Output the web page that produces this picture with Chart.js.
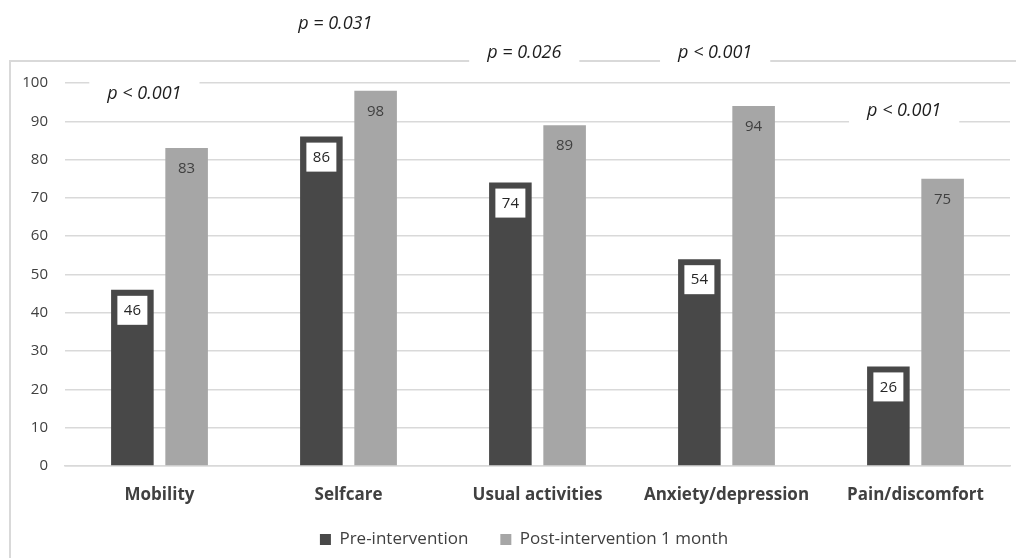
<!DOCTYPE html>
<html>
<head>
<meta charset="utf-8">
<script src="https://cdn.jsdelivr.net/npm/chart.js@4"></script>
<style>
  body { margin: 0; background: #fff; }
  #wrap { width: 1016px; height: 558px; }
</style>
</head>
<body>
<div id="wrap"><canvas id="myChart" width="1016" height="558"></canvas></div>
<script>
var categories = ['Mobility', 'Selfcare', 'Usual activities', 'Anxiety/depression', 'Pain/discomfort'];
var preValues = [46, 86, 74, 54, 26];
var postValues = [83, 98, 89, 94, 75];
var seriesNames = ['Pre-intervention', 'Post-intervention 1 month'];
var yTicks = [0, 10, 20, 30, 40, 50, 60, 70, 80, 90, 100];

// p-value notes: text, position on the category axis, height in value units
var pTexts = ['p < 0.001', 'p = 0.031', 'p = 0.026', 'p < 0.001', 'p < 0.001'];
var pIndex = [-0.08, 0.93, 1.93, 2.94, 3.94];
var pValue = [97.1, 115.4, 107.8, 107.8, 92.7];

var fontName = "'Open Sans', sans-serif";
var textGray = '#404040';

// light frame around the chart, like an office chart border
var framePlugin = {
  id: 'frame',
  beforeDraw: function(chart) {
    var c = chart.ctx;
    c.save();
    c.strokeStyle = '#d9d9d9';
    c.lineWidth = 2;
    c.beginPath();
    c.moveTo(10, 600);
    c.lineTo(10, 61);
    c.lineTo(1100, 61);
    c.stroke();
    c.restore();
  }
};

// the legend sits a bit right of centre and a little higher
var legendShift = {
  id: 'legendShift',
  afterLayout: function(chart) {
    var lg = chart.legend;
    lg.left += 19;
    lg.right += 19;
    lg.top -= 15;
    lg.bottom -= 15;
  }
};

// value labels on the bars
var valuePlugin = {
  id: 'values',
  afterDatasetsDraw: function(chart) {
    var c = chart.ctx;
    c.save();
    c.font = '15px ' + fontName;
    c.textAlign = 'center';
    c.textBaseline = 'middle';
    chart.data.datasets.forEach(function(ds, d) {
      chart.getDatasetMeta(d).data.forEach(function(bar, i) {
        var cy = bar.y + 21;
        if (d === 0) {
          c.fillStyle = '#ffffff';
          c.fillRect(bar.x - 15, bar.y + 6, 30, 29);
          c.fillStyle = '#262626';
        } else {
          c.fillStyle = textGray;
        }
        c.fillText(ds.data[i], bar.x, cy);
      });
    });
    c.restore();
  }
};

// p-value notes with white boxes behind them
var pPlugin = {
  id: 'pnotes',
  afterDraw: function(chart) {
    var c = chart.ctx;
    var xs = chart.scales.x, ys = chart.scales.y;
    c.save();
    c.font = 'italic 18px ' + fontName;
    c.textAlign = 'center';
    c.textBaseline = 'middle';
    for (var i = 0; i < pTexts.length; i++) {
      var px = xs.getPixelForValue(pIndex[i]);
      var py = ys.getPixelForValue(pValue[i]);
      var w = c.measureText(pTexts[i]).width + 36;
      c.fillStyle = '#ffffff';
      c.fillRect(px - w / 2, py - 16, w, 32);
      c.fillStyle = '#1e1e1e';
      c.fillText(pTexts[i], px, py);
    }
    c.restore();
  }
};

var ctx = document.getElementById('myChart');

var myChart = new Chart(ctx, {
  type: 'bar',
  data: {
    labels: categories,
    datasets: [{
      label: seriesNames[0],
      data: preValues,
      backgroundColor: '#484848'
    }, {
      label: seriesNames[1],
      data: postValues,
      backgroundColor: '#a6a6a6'
    }]
  },
  options: {
    responsive: false,
    animation: false,
    layout: { padding: { top: 83, left: 0, right: 6, bottom: -15 } },
    datasets: {
      bar: { categoryPercentage: 0.574, barPercentage: 0.785 }
    },
    plugins: {
      tooltip: { enabled: false },
      legend: {
        position: 'bottom',
        labels: {
          boxWidth: 11,
          boxHeight: 11,
          padding: 32,
          color: textGray,
          font: { family: fontName, size: 17 }
        }
      }
    },
    scales: {
      x: {
        grid: { display: false },
        border: { color: '#d9d9d9', width: 1.5 },
        ticks: {
          color: textGray,
          padding: 11,
          font: { family: fontName, size: 17, weight: 'bold' }
        },
        afterFit: function(scale) { scale.height = 48; }
      },
      y: {
        min: 0,
        max: 100,
        afterBuildTicks: function(scale) {
          scale.ticks = yTicks.map(function(v) { return { value: v }; });
        },
        grid: { color: '#d9d9d9', lineWidth: 1.5, drawTicks: false },
        border: { display: false },
        ticks: {
          color: textGray,
          padding: 17,
          font: { family: fontName, size: 15 }
        },
        afterFit: function(scale) { scale.width = 65; }
      }
    }
  },
  plugins: [framePlugin, legendShift, valuePlugin, pPlugin]
});
</script>
</body>
</html>
